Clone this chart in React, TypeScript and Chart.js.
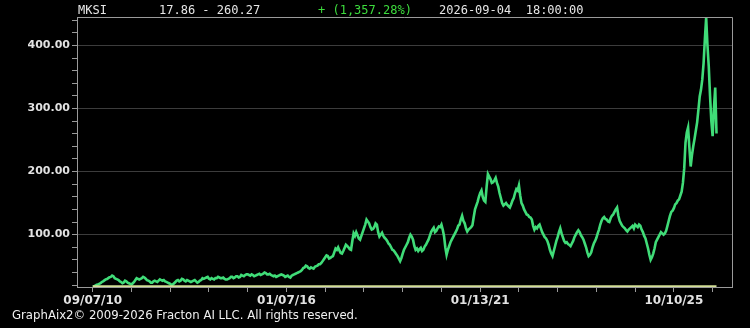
import React, { useEffect, useRef } from "react";
import { Chart, registerables } from "chart.js";

Chart.register(...registerables);

const ticker = "MKSI";
const rangeText = "17.86 - 260.27";
const changeText = "+ (1,357.28%)";
const stampText = "2026-09-04  18:00:00";
const footerText = "GraphAix2\u00A9 2009-2026 Fracton AI LLC. All rights reserved.";

const prices: number[] = [
  17.86, 18.2, 19, 20.5, 21, 22, 23, 25, 26, 27.5, 29, 29.5, 31, 32.5, 33, 35, 34, 31, 30, 29,
  28, 26, 25, 23, 24, 27, 26, 24, 23, 22, 21, 23, 25, 28, 31, 30, 29, 30, 31, 33,
  32, 30, 28, 27, 26, 24, 24, 26, 27, 26, 25, 27, 29, 28, 27, 28, 26, 25, 24, 23,
  22, 20, 21, 23, 25, 27, 28, 26, 27, 30, 29, 27, 26, 28, 27, 26, 25, 26, 27, 28,
  26, 24, 25, 27, 28, 31, 30, 31, 32, 33, 30, 29, 31, 30, 29, 31, 31, 33, 32, 31,
  31, 32, 30, 29, 29, 30, 31, 33, 33, 31, 32, 34, 34, 32, 33, 36, 35, 34, 36, 37,
  37, 36, 35, 37, 36, 34, 35, 36, 37, 38, 36, 37, 38, 40, 39, 37, 37, 38, 36, 35,
  34, 35, 33, 34, 35, 36, 37, 36, 35, 33, 34, 35, 33, 32, 35, 36, 37, 38, 39, 40,
  41, 42, 44, 47, 48, 51, 50, 47, 46, 48, 47, 46, 49, 50, 51, 53, 53, 55, 58, 61,
  64, 67, 66, 62, 63, 65, 66, 72, 78, 76, 80, 75, 71, 70, 74, 79, 84, 82, 80, 77,
  76, 90, 102, 98, 104, 99, 94, 92, 98, 104, 110, 116, 124, 121, 118, 112, 108, 109, 112, 118,
  116, 104, 97, 100, 103, 98, 95, 93, 90, 86, 84, 80, 76, 75, 72, 69, 66, 62, 58, 63,
  70, 76, 80, 84, 88, 95, 100, 97, 92, 82, 76, 78, 74, 77, 79, 74, 76, 81, 84, 88,
  92, 98, 104, 108, 111, 104, 106, 110, 113, 112, 116, 108, 98, 80, 68, 76, 82, 88, 92, 96,
  100, 104, 108, 114, 116, 124, 130, 122, 118, 110, 105, 108, 110, 112, 115, 128, 140, 146, 152, 160,
  166, 170, 160, 154, 152, 176, 196, 192, 188, 182, 183, 186, 190, 182, 176, 166, 158, 150, 146, 148,
  150, 147, 145, 143, 148, 154, 158, 166, 172, 170, 178, 162, 150, 146, 140, 136, 132, 131, 128, 127,
  124, 114, 108, 112, 110, 114, 116, 110, 104, 100, 96, 94, 90, 84, 76, 70, 66, 74, 82, 90,
  96, 104, 110, 102, 96, 90, 87, 88, 85, 84, 82, 86, 90, 96, 100, 104, 107, 104, 99, 96,
  92, 86, 80, 72, 66, 68, 72, 80, 86, 90, 95, 102, 108, 116, 122, 126, 128, 125, 124, 121,
  120, 126, 130, 132, 136, 140, 143, 130, 122, 118, 114, 112, 110, 107, 105, 108, 110, 112, 114, 110,
  116, 114, 112, 116, 114, 108, 104, 98, 94, 86, 78, 68, 60, 64, 70, 78, 88, 92, 96, 100,
  104, 102, 100, 102, 106, 114, 122, 130, 136, 138, 142, 148, 150, 154, 156, 162, 168, 182, 205, 246,
  262, 270, 238, 208, 226, 240, 252, 265, 278, 298, 319, 330, 346, 372, 410, 444, 400, 367, 320, 280,
  256, 300, 333, 260.27,
];

const baselineLevel = 18.2;
const xTickStep = 30;
const xTickCount = 17;
const xLabelEvery = 5;
const xTickLabels = ["09/07/10", "01/07/16", "01/13/21", "10/10/25"];
const yMin = 17;
const yMax = 445;
const yTickStep = 20;
const yLabelStep = 100;

const borderPlugin = {
  id: "plotBorder",
  afterDraw(chart: any) {
    const { ctx, chartArea } = chart;
    ctx.save();
    ctx.strokeStyle = "#9a9a9a";
    ctx.lineWidth = 1;
    ctx.beginPath();
    ctx.moveTo(chartArea.left, chartArea.top + 0.5);
    ctx.lineTo(chartArea.right + 0.5, chartArea.top + 0.5);
    ctx.lineTo(chartArea.right + 0.5, chartArea.bottom);
    ctx.stroke();
    ctx.restore();
  },
};

export default function App() {
  const ref = useRef<HTMLCanvasElement | null>(null);

  useEffect(() => {
    if (!ref.current) return;
    const lineData = prices.map((v, i) => ({ x: i, y: v }));
    const baseData = [
      { x: 0, y: baselineLevel },
      { x: prices.length - 1, y: baselineLevel },
    ];
    const chart = new Chart(ref.current, {
      type: "line",
      data: {
        datasets: [
          {
            label: "base",
            data: baseData,
            borderColor: "#d3df96",
            borderWidth: 2,
            pointRadius: 0,
            tension: 0,
          },
          {
            label: ticker,
            data: lineData,
            borderColor: "#40dc78",
            borderWidth: 2.6,
            pointRadius: 0,
            tension: 0,
          },
        ],
      },
      options: {
        animation: false,
        responsive: false,
        devicePixelRatio: 1,
        layout: { padding: { top: 17, right: 18, left: 0, bottom: 0 } },
        plugins: { legend: { display: false }, tooltip: { enabled: false } },
        scales: {
          x: {
            type: "linear",
            min: -12.2,
            max: 495,
            afterBuildTicks: (scale: any) => {
              const t = [];
              for (let k = 0; k < xTickCount; k++) t.push({ value: k * xTickStep });
              scale.ticks = t;
            },
            afterFit: (scale: any) => {
              scale.height = 41;
            },
            ticks: {
              autoSkip: false,
              maxRotation: 0,
              padding: 2,
              color: "#e2e2e2",
              font: { family: "DejaVu Sans", size: 12, weight: "bold" },
              callback: (value: any) => {
                const k = Math.round(value / xTickStep);
                return k % xLabelEvery === 0 ? xTickLabels[k / xLabelEvery] ?? "" : "";
              },
            },
            grid: {
              drawOnChartArea: false,
              drawTicks: true,
              tickLength: 5,
              tickColor: "#9a9a9a",
            },
            border: { display: true, color: "#9a9a9a" },
          },
          y: {
            min: yMin,
            max: yMax,
            afterBuildTicks: (scale: any) => {
              const t = [];
              for (let v = yTickStep; v <= yMax; v += yTickStep) t.push({ value: v });
              scale.ticks = t;
            },
            afterFit: (scale: any) => {
              scale.width = 77;
            },
            ticks: {
              autoSkip: false,
              padding: 2,
              color: "#e2e2e2",
              font: { family: "DejaVu Sans", size: 11, weight: "bold" },
              callback: (value: any) =>
                value % yLabelStep === 0 ? Number(value).toFixed(2) : "",
            },
            grid: {
              color: (ctx: any) =>
                ctx.tick && ctx.tick.value % yLabelStep === 0 ? "#3c3c3c" : "rgba(0,0,0,0)",
              drawTicks: true,
              tickLength: 5,
              tickColor: "#9a9a9a",
            },
            border: { display: true, color: "#9a9a9a" },
          },
        },
      },
      plugins: [borderPlugin],
    });
    return () => chart.destroy();
  }, []);

  const mono: React.CSSProperties = {
    position: "absolute",
    top: 3,
    fontFamily: "'DejaVu Sans Mono', monospace",
    fontSize: 12,
    lineHeight: "14px",
    color: "#e6e6e6",
    whiteSpace: "pre",
  };

  return (
    <div
      style={{
        position: "fixed",
        left: 0,
        top: 0,
        width: 750,
        height: 328,
        background: "#000",
        overflow: "hidden",
      }}
    >
      <canvas ref={ref} width={750} height={328} style={{ position: "absolute", left: 0, top: 0 }} />
      <span style={{ ...mono, left: 78 }}>{ticker}</span>
      <span style={{ ...mono, left: 159 }}>{rangeText}</span>
      <span style={{ ...mono, left: 318, color: "#3ddc3d" }}>{changeText}</span>
      <span style={{ ...mono, left: 439 }}>{stampText}</span>
      <span
        style={{
          position: "absolute",
          left: 12,
          top: 307,
          fontFamily: "'Liberation Sans Narrow', 'DejaVu Sans Condensed', sans-serif",
          fontStretch: "condensed",
          fontSize: 13,
          lineHeight: "16px",
          color: "#f0f0f0",
          whiteSpace: "pre",
        }}
      >
        {footerText}
      </span>
    </div>
  );
}
